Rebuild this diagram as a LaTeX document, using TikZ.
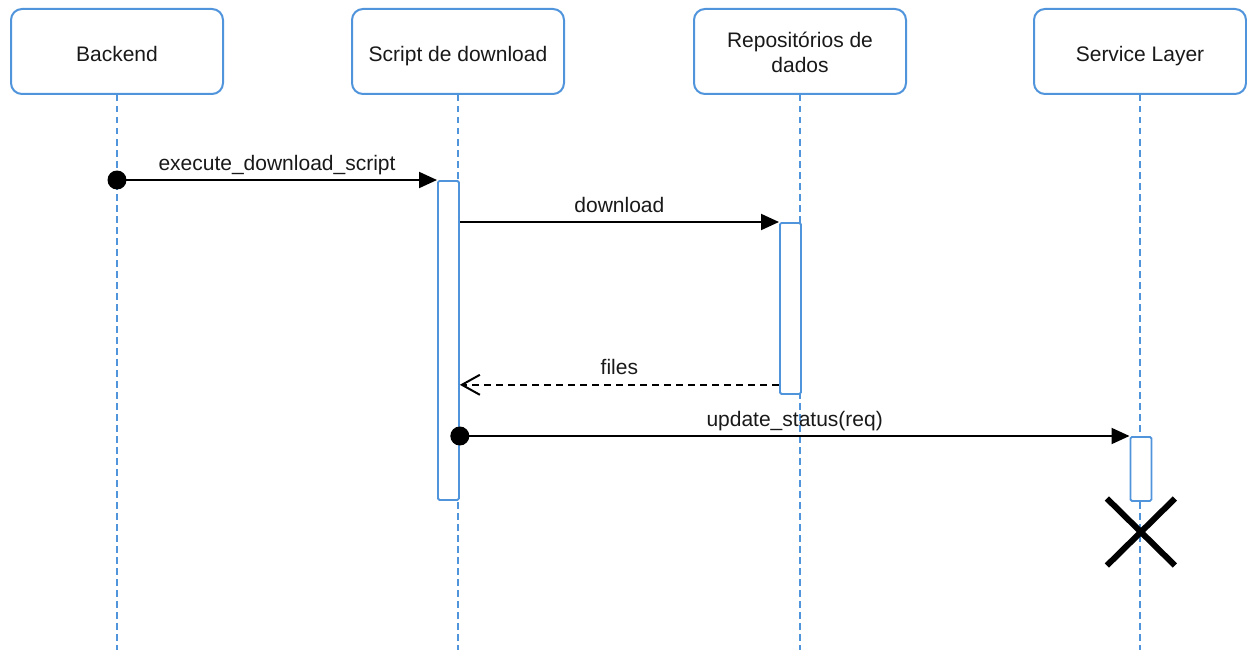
\documentclass[tikz,border=0pt]{standalone}
\usepackage{fontspec}
\setmainfont{Liberation Sans}
\usetikzlibrary{arrows.meta,shapes.misc}
\definecolor{lane}{RGB}{80,148,220}
\definecolor{ink}{RGB}{25,25,25}
\begin{document}
\begin{tikzpicture}[x=1pt,y=-1pt,
  font=\fontsize{21}{25}\selectfont,
  actor/.style={draw=lane, line width=2pt, rounded corners=11pt, fill=white,
    minimum width=212pt, minimum height=85pt, inner sep=0pt},
  caption/.style={text=ink, align=center, inner sep=0pt, yshift=-1pt},
  oneline/.style={caption, text height=15pt, text depth=4.5pt, yshift=-4.25pt},
  lifeline/.style={draw=lane, line width=1.5pt, dash pattern=on 6.5pt off 4.5pt},
  act/.style={draw=lane, line width=1.8pt, fill=white, rounded corners=1.5pt,
    minimum width=21pt, inner sep=0pt, anchor=north west},
  dot/.style={circle, fill=black, minimum size=19pt, inner sep=0pt},
  call/.style={draw=black, line width=2pt, -{Triangle[length=18pt,width=16pt]}},
  reply/.style={draw=black, line width=2pt, dash pattern=on 7pt off 5pt,
    -{Straight Barb[length=18pt,width=20pt]}},
  lbl/.style={anchor=base, text=ink, inner sep=0pt, yshift=10pt},
  kill/.style={draw=black, line width=6pt, cross out, minimum width=62pt,
    minimum height=61pt, inner sep=0pt}
]
\useasboundingbox (0,0) rectangle (1247,650);

% participants
\node[actor, label={[oneline]center:Backend}] (be) at (117,51.5) {};
\node[actor, label={[oneline]center:Script de download}] (sd) at (458,51.5) {};
\node[actor, label={[caption]center:Repositórios de\\dados}] (rd) at (800,51.5) {};
\node[actor, label={[oneline]center:Service Layer}] (sl) at (1140,51.5) {};

% lifelines
\foreach \p in {be,sd,rd,sl}
  \draw[lifeline] (\p.south) -- (\p.south |- 0,650);

% activation bars
\node[act, minimum height=319pt] (sdbar) at (437,180) {};
\node[act, minimum height=171pt] (rdbar) at (779,222) {};
\node[act, minimum height=64pt]  (slbar) at (1129.5,436) {};

% messages
\node[dot] (d1) at (be.south |- 0,180) {};
\draw[call] (d1.center) -- (sdbar.north west)
  node[midway, lbl] {execute\_download\_script};

\draw[call] (sdbar.east |- rdbar.north) -- (rdbar.north west)
  node[midway, lbl] {download};

\coordinate (ret) at ([yshift=10pt]rdbar.south west);
\draw[reply] (ret) -- (sdbar.east |- ret)
  node[midway, lbl] {files};

\node[dot] (d2) at (sdbar.east |- 0,436) {};
\draw[call] (d2.center) -- (slbar.north west)
  node[midway, lbl] {update\_status(req)};

% destruction of the service layer instance
\node[kill] (end) at (slbar.south |- 0,532) {};
\end{tikzpicture}
\end{document}
